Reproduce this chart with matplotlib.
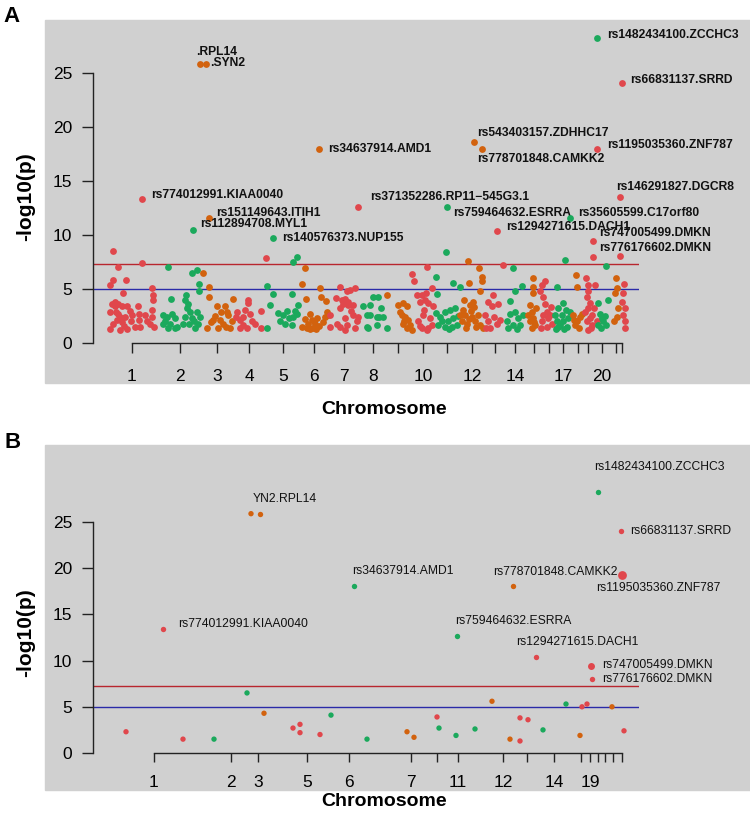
import matplotlib
matplotlib.use("Agg")
import matplotlib.pyplot as plt
from matplotlib.patches import Rectangle

plt.rcParams['font.family'] = ['Liberation Sans', 'DejaVu Sans']

W, H = 750, 815
RED = '#e0474c'
GREEN = '#1ba95c'
ORANGE = '#d2620e'
COLS = {'r': RED, 'g': GREEN, 'o': ORANGE}
GREY_BG = '#d0d0d0'

# ---------------- panel A data (x = position along genome axis) ----------------
a_tick_pos = [132, 180, 217, 249, 283, 314, 344, 373, 398, 423, 447, 472, 495,
              515, 534, 549, 563, 578, 588, 602, 616, 622]
a_tick_lab = ['1', '2', '3', '4', '5', '6', '7', '8', '', '10', '', '12', '',
              '14', '', '', '17', '', '', '20', '', '']

a_chr_points = {
    1: [(113, 8.5), (118, 7.0), (142, 7.4), (113, 5.8), (110, 5.4), (126, 5.8), (123, 4.6),
        (152, 5.1), (153, 4.4), (153, 4.0), (115, 3.8), (118, 3.6), (115, 3.4), (122, 3.4),
        (127, 3.4), (110, 2.9), (118, 2.7), (125, 2.4), (117, 2.1), (113, 1.8), (122, 1.9),
        (110, 1.3), (127, 1.3), (132, 2.6), (131, 2.0), (138, 3.4), (139, 2.7), (139, 2.1),
        (140, 1.5), (147, 2.0), (152, 2.4), (152, 3.1), (154, 1.5), (135, 1.5), (120, 1.2),
        (112, 3.6), (120, 2.4), (130, 3.0), (145, 2.6), (150, 1.8), (116, 2.9), (124, 1.6)],
    2: [(168, 7.0), (171, 4.1), (163, 2.6), (167, 2.4), (163, 1.8), (170, 1.8), (168, 1.4),
        (175, 1.4), (175, 2.3), (177, 1.5), (192, 6.5), (197, 6.8), (199, 5.5), (199, 4.8),
        (186, 4.4), (185, 4.0), (187, 3.2), (190, 2.9), (185, 2.4), (192, 2.3), (183, 1.8),
        (189, 1.8), (195, 1.4), (198, 1.8), (197, 2.9), (200, 2.4), (165, 2.0), (172, 2.7),
        (188, 3.6), (194, 2.0)],
    3: [(203, 6.5), (209, 5.2), (209, 4.3), (207, 1.4), (217, 3.4), (213, 2.1), (220, 2.1),
        (223, 1.8), (228, 2.6), (233, 4.1), (230, 1.4), (227, 2.9), (218, 1.4), (232, 2.0),
        (215, 2.5), (225, 3.4), (221, 2.9), (211, 1.9), (226, 1.5)],
    4: [(237, 2.9), (240, 2.1), (243, 2.4), (247, 1.4), (248, 4.0), (248, 3.7), (252, 2.0),
        (245, 3.1), (240, 1.4), (261, 3.0), (261, 1.4), (266, 7.9), (250, 2.7), (255, 1.8),
        (243, 1.7), (236, 2.4)],
    5: [(267, 5.3), (273, 4.5), (270, 3.5), (267, 1.4), (292, 4.5), (287, 3.0), (283, 2.6),
        (285, 1.8), (292, 1.7), (293, 7.5), (297, 8.0), (297, 2.7), (298, 3.5), (293, 2.4),
        (280, 2.0), (289, 2.3), (295, 3.0), (278, 2.8)],
    6: [(305, 6.9), (302, 5.5), (306, 4.1), (312, 2.1), (307, 1.4), (313, 1.4), (315, 1.8),
        (310, 2.7), (320, 5.1), (321, 4.3), (325, 2.4), (328, 2.6), (326, 3.9), (317, 2.3),
        (302, 1.5), (308, 1.8), (310, 1.3), (314, 2.0), (319, 1.6), (323, 1.9), (305, 2.2),
        (316, 1.3), (327, 2.9)],
    7: [(330, 2.6), (330, 1.5), (340, 5.2), (347, 4.8), (350, 4.9), (345, 4.1), (348, 3.8),
        (353, 3.5), (340, 3.2), (353, 2.6), (357, 2.0), (347, 1.7), (337, 1.8), (345, 1.2),
        (355, 5.1), (348, 3.5), (343, 3.6), (358, 2.4), (340, 1.5), (351, 3.0), (345, 2.3),
        (355, 1.4), (336, 4.2), (342, 4.0)],
    8: [(363, 3.4), (370, 3.5), (367, 2.6), (373, 4.3), (377, 2.4), (367, 1.5), (377, 1.7),
        (378, 4.3), (370, 2.6), (379, 2.4), (383, 2.4), (368, 1.4), (387, 1.4), (381, 3.2)],
    9: [(387, 4.4), (403, 3.7), (407, 3.4), (400, 2.9), (402, 2.6), (405, 2.4), (408, 2.1),
        (403, 1.8), (410, 1.7), (412, 1.2), (407, 1.4), (398, 3.5), (404, 2.0)],
    10: [(412, 6.4), (414, 5.7), (427, 7.0), (432, 5.1), (422, 4.4), (425, 4.0), (420, 3.8),
         (428, 3.7), (423, 2.6), (430, 2.3), (422, 1.4), (427, 1.2), (432, 1.7), (418, 2.0),
         (433, 3.4), (417, 4.4), (426, 4.6), (420, 1.6), (428, 1.4), (424, 3.1)],
    11: [(446, 8.4), (436, 6.1), (437, 4.5), (453, 5.6), (460, 5.2), (445, 2.9), (450, 3.1),
         (455, 3.2), (442, 2.0), (448, 2.0), (453, 2.3), (438, 1.7), (445, 1.5), (452, 1.5),
         (457, 1.7), (440, 2.4), (449, 1.3), (458, 2.5), (436, 2.8)],
    12: [(468, 7.6), (479, 6.9), (482, 6.1), (482, 5.7), (469, 5.6), (480, 4.8), (473, 3.8),
         (470, 3.5), (463, 3.1), (465, 2.6), (462, 2.0), (467, 1.8), (472, 2.4), (475, 2.0),
         (478, 2.6), (480, 1.7), (483, 1.4), (460, 2.6), (466, 1.4), (471, 3.0), (476, 1.5),
         (469, 2.2), (474, 3.3), (464, 4.0)],
    13: [(503, 7.2), (493, 4.4), (488, 3.8), (492, 3.4), (485, 2.6), (488, 2.0), (497, 1.8),
         (500, 2.1), (490, 1.4), (486, 1.4), (494, 2.4), (498, 3.6)],
    14: [(513, 6.9), (522, 5.3), (515, 4.8), (510, 2.7), (515, 2.9), (507, 2.0), (513, 1.7),
         (508, 1.4), (518, 2.3), (523, 2.6), (520, 1.7), (510, 3.9), (517, 1.3)],
    15: [(533, 6.0), (533, 5.2), (533, 4.6), (530, 3.5), (532, 2.9), (533, 2.3), (530, 2.0),
         (535, 1.7), (532, 1.4), (528, 2.6), (536, 3.2), (534, 1.9)],
    16: [(542, 5.4), (545, 5.7), (543, 4.3), (540, 4.8), (547, 2.9), (543, 2.6), (542, 2.0),
         (550, 2.6), (547, 1.5), (552, 1.8), (545, 3.6), (548, 2.3), (541, 1.4), (551, 3.3)],
    17: [(565, 7.7), (557, 5.2), (563, 3.7), (558, 3.2), (562, 2.6), (557, 2.0), (563, 2.0),
         (568, 2.3), (558, 1.5), (567, 1.5), (555, 2.6), (570, 2.9), (560, 1.7), (564, 1.3),
         (566, 3.1), (556, 1.3)],
    18: [(576, 6.3), (577, 5.2), (573, 2.6), (580, 2.4), (577, 2.0), (582, 2.7), (575, 1.7),
         (579, 1.4), (574, 2.1)],
    19: [(586, 6.0), (588, 5.4), (595, 5.4), (588, 4.8), (587, 4.3), (590, 3.7), (588, 3.2),
         (592, 2.6), (587, 2.0), (592, 1.7), (588, 1.2), (597, 2.0), (585, 2.9), (590, 2.3),
         (594, 3.2), (591, 1.4)],
    20: [(606, 7.1), (608, 4.0), (598, 3.7), (600, 2.7), (603, 2.0), (598, 1.7), (605, 2.5),
         (601, 1.4), (606, 1.7), (602, 2.3)],
    21: [(616, 6.0), (617, 5.1), (615, 4.6), (618, 3.2), (617, 2.4), (614, 2.0)],
    22: [(620, 8.1), (624, 5.5), (623, 4.6), (622, 3.8), (625, 3.2), (623, 2.6), (625, 2.0),
         (625, 1.4)],
}

# labelled hits: x, -log10(p), colour, label, text offset in px (dx, dy)
a_hits = [
    (200, 25.8, 'o', '.RPL14', -4, -12),
    (206, 25.8, 'o', '.SYN2', 4, -1),
    (319, 18.0, 'o', 'rs34637914.AMD1', 9, 0),
    (597, 28.2, 'g', 'rs1482434100.ZCCHC3', 10, -3),
    (622, 24.1, 'r', 'rs66831137.SRRD', 8, -3),
    (474, 18.6, 'o', 'rs543403157.ZDHHC17', 3, -9),
    (482, 18.0, 'o', 'rs778701848.CAMKK2', -5, 10),
    (597, 18.0, 'r', 'rs1195035360.ZNF787', 10, -4),
    (620, 13.5, 'r', 'rs146291827.DGCR8', -4, -10),
    (142, 13.3, 'r', 'rs774012991.KIAA0040', 9, -4),
    (209, 11.6, 'o', 'rs151149643.ITIH1', 7, -5),
    (193, 10.5, 'g', 'rs112894708.MYL1', 7, -6),
    (273, 9.7, 'g', 'rs140576373.NUP155', 9, 0),
    (358, 12.6, 'r', 'rs371352286.RP11\u2212545G3.1', 12, -10),
    (447, 12.6, 'g', 'rs759464632.ESRRA', 6, 6),
    (570, 11.6, 'g', 'rs35605599.C17orf80', 8, -5),
    (497, 10.4, 'r', 'rs1294271615.DACH1', 9, -4),
    (593, 9.4, 'r', 'rs747005499.DMKN', 6, -8),
    (593, 8.0, 'r', 'rs776176602.DMKN', 6, -9),
]

# ---------------- panel B data ----------------
b_tick_pos = [154, 231, 258, 307, 349, 411, 437, 458, 503, 527, 554, 581, 590,
              598, 605, 613, 622]
b_tick_lab = ['1', '2', '3', '5', '6', '7', '', '11', '12', '', '14', '', '19',
              '', '', '', '']

b_x = [126, 183, 214, 247, 264, 293, 300, 300, 320, 331, 367, 407, 414, 437, 439,
       456, 475, 492, 510, 520, 528, 520, 543, 566, 580, 582, 587, 612, 624, 251]
b_p = [2.3, 1.5, 1.5, 6.5, 4.3, 2.7, 3.1, 2.2, 2.0, 4.1, 1.5, 2.3, 1.7, 3.9, 2.7,
       1.9, 2.6, 5.6, 1.5, 3.8, 3.6, 1.3, 2.5, 5.3, 1.9, 5.0, 5.3, 5.0, 2.4, 25.9]
b_col = 'rrggorrrrggoorgggoorrrggorroro'

b_hits = [
    (260, 25.9, 'o', 'YN2.RPL14', -7, -15, 15),
    (354, 18.1, 'g', 'rs34637914.AMD1', -2, -15, 15),
    (598, 28.2, 'g', 'rs1482434100.ZCCHC3', -4, -25, 15),
    (621, 24.0, 'r', 'rs66831137.SRRD', 9, 0, 15),
    (513, 18.1, 'o', 'rs778701848.CAMKK2', -20, -14, 15),
    (622, 19.3, 'r', 'rs1195035360.ZNF787', -26, 13, 40),
    (163, 13.4, 'r', 'rs774012991.KIAA0040', 15, -5, 15),
    (457, 12.7, 'g', 'rs759464632.ESRRA', -2, -15, 15),
    (536, 10.4, 'r', 'rs1294271615.DACH1', -20, -15, 15),
    (591, 9.4, 'r', 'rs747005499.DMKN', 11, -1, 25),
    (592, 8.0, 'r', 'rs776176602.DMKN', 10, 0, 15),
]


def panel_axes(fig, y0_px, px_per_unit, ytop):
    left, right = 93, 639
    ax = fig.add_axes([left / W, 1 - y0_px / H, (right - left) / W,
                       ytop * px_per_unit / H])
    ax.set_xlim(left, right)
    ax.set_ylim(0, ytop)
    ax.set_facecolor('none')
    for s in ['top', 'right']:
        ax.spines[s].set_visible(False)
    for s in ['left', 'bottom']:
        ax.spines[s].set_color('#222222')
        ax.spines[s].set_linewidth(1.0)
    ax.spines['left'].set_bounds(0, 25)
    ax.set_yticks([0, 5, 10, 15, 20, 25])
    ax.tick_params(axis='y', direction='out', length=8, width=1.0, color='#222222',
                   labelsize=12.5, pad=7)
    ax.axhline(7.3, color='#b8262e', lw=1.0, zorder=1)
    ax.axhline(5.0, color='#2a2aa8', lw=1.0, zorder=1)
    return ax


fig = plt.figure(figsize=(W / 100, H / 100), dpi=100)
fig.patch.set_facecolor('white')

# grey backgrounds of both panels
fig.add_artist(Rectangle((45 / W, 1 - 383 / H), (W - 45) / W, 363 / H,
                         transform=fig.transFigure, color=GREY_BG, zorder=0))
fig.add_artist(Rectangle((45 / W, 1 - 790 / H), (W - 45) / W, 345 / H,
                         transform=fig.transFigure, color=GREY_BG, zorder=0))

# ---------------- panel A ----------------
axA = panel_axes(fig, 343, 10.8, 29.5)
for chrom, pts in a_chr_points.items():
    col = [RED, GREEN, ORANGE][(chrom - 1) % 3]
    xs = [p[0] for p in pts]
    ys = [p[1] for p in pts]
    axA.scatter(xs, ys, s=24, color=col, linewidths=0, zorder=3, clip_on=False)
for x, v, c, lab, dx, dy in a_hits:
    axA.scatter([x], [v], s=24, color=COLS[c], linewidths=0, zorder=3, clip_on=False)
    axA.annotate(lab, (x, v), xytext=(dx * 0.72, -dy * 0.72), textcoords='offset points',
                 ha='left', va='center', fontsize=8.7, fontweight='bold', color='#111111')
axA.spines['bottom'].set_bounds(a_tick_pos[0], a_tick_pos[-1])
axA.set_xticks(a_tick_pos)
axA.set_xticklabels(a_tick_lab)
axA.tick_params(axis='x', direction='out', length=7.5, width=1.0, color='#222222',
                labelsize=12.5, pad=11)

# ---------------- panel B ----------------
axB = panel_axes(fig, 753, 9.24, 29.5)
axB.scatter(b_x, b_p, s=15, color=[COLS[c] for c in b_col], linewidths=0, zorder=3)
for x, v, c, lab, dx, dy, sz in b_hits:
    axB.scatter([x], [v], s=sz, color=COLS[c], linewidths=0, zorder=3, clip_on=False)
    axB.annotate(lab, (x, v), xytext=(dx * 0.72, -dy * 0.72), textcoords='offset points',
                 ha='left', va='center', fontsize=8.7, color='#111111')
axB.spines['bottom'].set_bounds(b_tick_pos[0], b_tick_pos[-1])
axB.set_xticks(b_tick_pos)
axB.set_xticklabels(b_tick_lab)
axB.tick_params(axis='x', direction='out', length=6.5, width=1.0, color='#222222',
                labelsize=12.5, pad=9.5)

# axis titles and panel letters
for yl, yc in [(197, 'A'), (633, 'B')]:
    fig.text(26 / W, 1 - yl / H, '-log10(p)', rotation=90, ha='center', va='center',
             fontsize=15, fontweight='bold')
fig.text(384 / W, 1 - 410 / H, 'Chromosome', ha='center', va='center',
         fontsize=14, fontweight='bold')
fig.text(384 / W, 1 - 802 / H, 'Chromosome', ha='center', va='center',
         fontsize=14, fontweight='bold')
fig.text(12 / W, 1 - 16 / H, 'A', ha='center', va='center', fontsize=16, fontweight='bold')
fig.text(13 / W, 1 - 443 / H, 'B', ha='center', va='center', fontsize=16, fontweight='bold')

fig.savefig('out.png', dpi=100, facecolor='white')
